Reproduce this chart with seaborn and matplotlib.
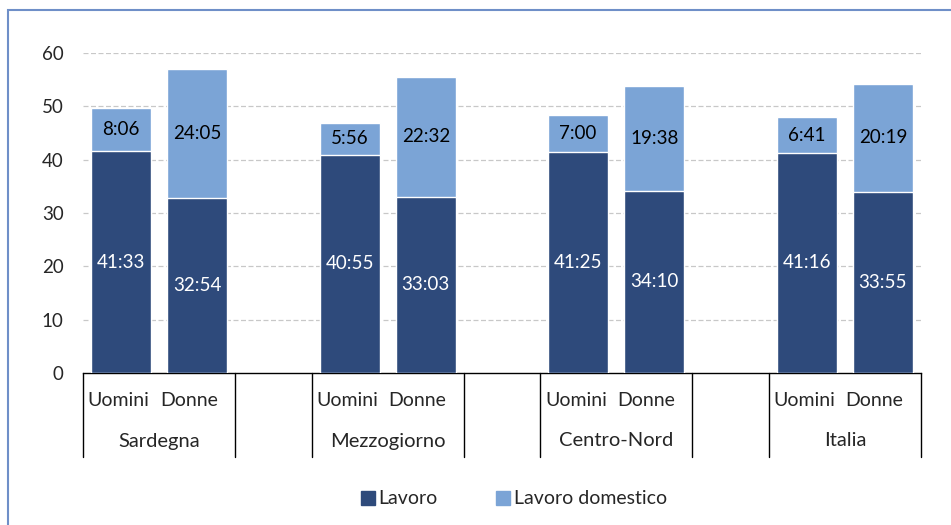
import pandas as pd
import matplotlib.pyplot as plt
import seaborn as sns
from matplotlib.patches import Rectangle, Patch

sns.set_style("white")
plt.rcParams['font.family'] = ['Lato', 'DejaVu Sans']

# data (hh:mm, ore settimanali)
aree = ["Sardegna", "Mezzogiorno", "Centro-Nord", "Italia"]
sessi = ["Uomini", "Donne"]
lavoro = ["41:33", "32:54", "40:55", "33:03", "41:25", "34:10", "41:16", "33:55"]
domestico = ["8:06", "24:05", "5:56", "22:32", "7:00", "19:38", "6:41", "20:19"]


def to_hours(s):
    h, m = s.split(":")
    return int(h) + int(m) / 60


rows = []
order = []
for i, area in enumerate(aree):
    for j, sesso in enumerate(sessi):
        k = i * 2 + j
        slot = area + "|" + sesso
        order.append(slot)
        rows.append({"slot": slot, "lavoro": to_hours(lavoro[k]),
                     "domestico": to_hours(domestico[k]),
                     "lab_l": lavoro[k], "lab_d": domestico[k]})
    if i < len(aree) - 1:
        order.append("gap%d" % i)
df = pd.DataFrame(rows)
df["totale"] = df["lavoro"] + df["domestico"]

dark = "#2E4A7B"
light = "#7BA4D6"

fig = plt.figure(figsize=(9.51, 5.25), dpi=100)
ax = fig.add_axes([83 / 951, 1 - 373 / 525, 838 / 951, 320 / 525])

sns.barplot(data=df, x="slot", y="totale", order=order, color=light,
            width=0.79, saturation=1, ax=ax, zorder=2)
sns.barplot(data=df, x="slot", y="lavoro", order=order, color=dark,
            width=0.79, saturation=1, ax=ax, zorder=3)

ax.set_ylim(0, 60)
ax.set_xlim(-0.5, len(order) - 0.5)
ax.set_yticks(range(0, 61, 10))
ax.tick_params(axis="y", length=0, labelsize=13.5, pad=14)
ax.set_xticks([])
ax.set_xlabel("")
ax.set_ylabel("")
for y in range(10, 61, 10):
    ax.axhline(y, color="#C8C8C8", lw=0.9, ls=(0, (4, 2)), zorder=1)
for s in ["left", "right", "top"]:
    ax.spines[s].set_visible(False)
ax.spines["bottom"].set_color("black")
ax.spines["bottom"].set_linewidth(1)

# value labels
for _, r in df.iterrows():
    x = order.index(r["slot"])
    ax.text(x, r["lavoro"] / 2, r["lab_l"], ha="center", va="center",
            color="white", fontsize=13.5, zorder=4)
    ax.text(x, r["lavoro"] + r["domestico"] / 2, r["lab_d"], ha="center",
            va="center", color="black", fontsize=13.5, zorder=4)

# two-level category axis
tr = ax.get_xaxis_transform()
y_bot = -84 / 320
shift = {"Uomini": -0.03, "Donne": -0.11}
for slot in order:
    x = order.index(slot)
    if slot.startswith("gap"):
        continue
    area, sesso = slot.split("|")
    ax.text(x + shift[sesso], -28 / 320, sesso, transform=tr, ha="center",
            va="center", fontsize=14)
for i, area in enumerate(aree):
    ax.text(i * 3 + 0.5, -68 / 320, area, transform=tr, ha="center",
            va="center", fontsize=14.5)
bounds = [-0.5]
for i in range(len(aree)):
    bounds += [i * 3 + 1.5]
    if i < len(aree) - 1:
        bounds += [i * 3 + 2.5]
for b in bounds:
    ax.plot([b, b], [0, y_bot], transform=tr, color="black", lw=1,
            clip_on=False)

# legend
handles = [Patch(color=dark, label="Lavoro"),
           Patch(color=light, label="Lavoro domestico")]
fig.legend(handles=handles, loc="center", bbox_to_anchor=(514 / 951, 1 - 499 / 525),
           ncol=2, frameon=False, fontsize=14, handlelength=0.7,
           handleheight=0.7, handletextpad=0.2, columnspacing=3.0)

# chart frame
fig.patches.append(Rectangle((8 / 951, -0.05), 1.1, 1 - 10 / 525 + 0.05,
                             transform=fig.transFigure, fill=False,
                             edgecolor="#6F8FC8", lw=1.5))

fig.savefig("out.png", dpi=100)
